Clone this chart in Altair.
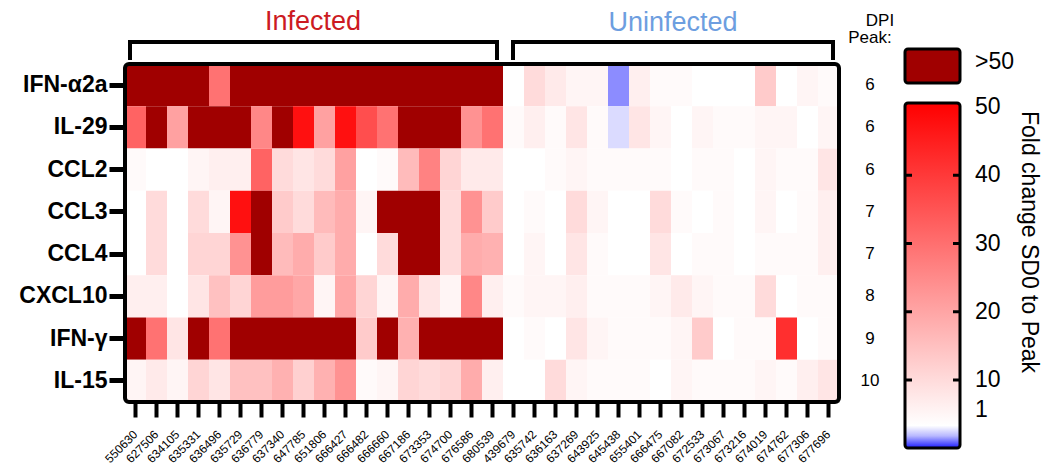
import altair as alt
import pandas as pd

infected = ["550630", "627506", "634105", "635331", "636496", "635729", "636779", "637340",
            "647785", "651806", "666427", "666482", "666660", "667186", "673353", "674700",
            "676586", "680539"]
uninfected = ["439679", "635742", "636163", "637269", "643925", "645438", "655401", "666475",
              "667082", "672533", "673067", "673216", "674019", "674762", "677306", "677696"]
samples = infected + uninfected
cytokines = ["IFN-α2a", "IL-29", "CCL2", "CCL3", "CCL4", "CXCL10", "IFN-γ", "IL-15"]
dpi_peak = [6, 6, 6, 7, 7, 8, 9, 10]
D = 60  # saturated cells (">50")

ifn_a2a = [D, D, D, D, 28, D, D, D, D, D, D, D, D, D, D, D, D, D,
           1, 8, 5, 3, 3, 0.55, 4, 2, 2, 1, 1, 1, 11, 1, 3, 2]
il29 = [31, D, 19, D, D, D, 24, D, 47, 19, 47, 35, 28, D, D, D, 22, 28,
        2, 4, 2, 6, 2, 0.86, 6, 3, 1, 3, 2, 2, 3, 3, 1, 3]
ccl2 = [2, 1, 1, 3, 4, 4, 31, 8, 6, 8, 19, 1, 2, 14, 25, 9, 5, 5,
        1, 1, 2, 3, 2, 2, 2, 2, 1, 2, 2, 1, 3, 2, 2, 6]
ccl3 = [1, 8, 1, 8, 3, 47, D, 11, 8, 14, 17, 3, D, D, D, 8, 22, 11,
        1, 2, 1, 8, 3, 1, 1, 8, 2, 1, 2, 1, 3, 1, 2, 4]
ccl4 = [1, 8, 1, 9, 9, 22, D, 14, 17, 11, 17, 1, 8, D, D, 8, 17, 16,
        1, 3, 1, 6, 2, 1, 1, 6, 1, 2, 2, 1, 2, 2, 2, 4]
cxcl10 = [4, 4, 1, 6, 13, 9, 20, 20, 18, 3, 18, 9, 3, 17, 6, 3, 24, 4,
          2, 3, 3, 4, 2, 2, 2, 3, 5, 3, 2, 2, 8, 1, 2, 2]
ifng = [D, 28, 6, D, 28, D, D, D, D, D, D, 11, D, 16, D, D, D, D,
        1, 2, 1, 6, 3, 2, 2, 2, 3, 11, 1, 2, 2, 41, 1, 2]
il15 = [3, 5, 3, 9, 6, 13, 13, 16, 10, 16, 22, 2, 3, 9, 8, 9, 17, 4,
        1, 1, 8, 3, 2, 2, 2, 1, 3, 2, 2, 2, 3, 2, 4, 6]
rows = [ifn_a2a, il29, ccl2, ccl3, ccl4, cxcl10, ifng, il15]

colorbar_ticks = [1, 10, 20, 30, 40, 50]
colorbar_inner_ticks = [10, 20, 30, 40]

FONT = "Liberation Sans"
DARK = "#a00000"
W, H = 714, 338

records = []
for cyt, vals in zip(cytokines, rows):
    for s, v in zip(samples, vals):
        records.append({"cytokine": cyt, "sample": s, "value": v})
df = pd.DataFrame(records)
dpi_df = pd.DataFrame({"cytokine": cytokines, "dpi": dpi_peak})
one = pd.DataFrame({"a": [0]})

color_scale = alt.Scale(domain=[0, 1, 50, 50.001, 100],
                        range=["#0000ff", "#ffffff", "#ff0000", DARK, DARK],
                        interpolate="rgb", clamp=True)
x_scale = alt.Scale(domain=samples, paddingInner=0, paddingOuter=0)
y_scale = alt.Scale(domain=cytokines, paddingInner=0, paddingOuter=0)

heat = alt.Chart(df).mark_rect().encode(
    x=alt.X("sample:N", sort=samples, scale=x_scale,
            axis=alt.Axis(title=None, labelAngle=315, labelFontSize=12, labelFont=FONT,
                          ticks=True, tickSize=15, tickWidth=4, tickColor="black",
                          domain=False, labelPadding=15, labelAlign="right",
                          labelBaseline="middle", labelColor="black")),
    y=alt.Y("cytokine:N", sort=cytokines, scale=y_scale,
            axis=alt.Axis(title=None, labelFontSize=23, labelFontWeight="bold", labelFont=FONT,
                          tickSize=16, tickWidth=5, tickColor="black", domain=False,
                          labelPadding=2, labelColor="black")),
    color=alt.Color("value:Q", scale=color_scale, legend=None),
)

dpi_text = alt.Chart(dpi_df).mark_text(fontSize=17, font=FONT, align="center", baseline="middle").encode(
    y=alt.Y("cytokine:N", sort=cytokines, scale=y_scale),
    x=alt.value(745),
    text="dpi:Q",
)


def txt(t, x, y, **kw):
    return alt.Chart(one).mark_text(text=t, font=FONT, baseline="middle", **kw).encode(
        x=alt.value(x), y=alt.value(y))


def rule(x, x2, y, y2=None):
    enc = dict(x=alt.value(x), x2=alt.value(x2), y=alt.value(y))
    if y2 is not None:
        enc["y2"] = alt.value(y2)
    return alt.Chart(one).mark_rule(color="black", strokeWidth=4, strokeCap="square").encode(**enc)


frame = alt.Chart(one).mark_rect(fill=None, fillOpacity=0, stroke="black", strokeWidth=4,
                                 cornerRadius=4).encode(
    x=alt.value(0), x2=alt.value(W), y=alt.value(0), y2=alt.value(H))

annotations = [
    frame,
    txt("Infected", 188, -42, fontSize=27, color="#cc1a22", align="center"),
    txt("Uninfected", 548, -41, fontSize=27, color="#6d9ee0", align="center"),
    rule(5, 372, -22), rule(5, 5, -22, -6), rule(372, 372, -22, -6),
    rule(388, 708, -22), rule(388, 388, -22, -6), rule(708, 708, -22, -6),
    txt("DPI", 755, -43, fontSize=17, align="center"),
    txt("Peak:", 745, -26, fontSize=17, align="center"),
]

main = alt.layer(heat, dpi_text, *annotations)

gradient = alt.LinearGradient(
    gradient="linear", x1=0, x2=0, y1=1, y2=0,
    stops=[alt.GradientStop(color="#1a1aff", offset=0),
           alt.GradientStop(color="#b8b8ff", offset=0.035),
           alt.GradientStop(color="#ffffff", offset=0.065),
           alt.GradientStop(color="#ff0000", offset=1)])

bar = alt.Chart(one).mark_rect(fill=gradient, stroke="black", strokeWidth=3, cornerRadius=3).encode(
    x=alt.value(780), x2=alt.value(835), y=alt.value(39), y2=alt.value(384))
over_box = alt.Chart(one).mark_rect(fill=DARK, stroke="black", strokeWidth=3, cornerRadius=3).encode(
    x=alt.value(780), x2=alt.value(835), y=alt.value(-15), y2=alt.value(19))

cb_scale = alt.Scale(domain=[1, 10, 50], range=[346, 316, 43])
inner_df = pd.DataFrame({"v": colorbar_inner_ticks})
tick_df = pd.DataFrame({"v": colorbar_ticks})
ticks_l = alt.Chart(inner_df).mark_rule(color="black", strokeWidth=3).encode(
    y=alt.Y("v:Q", scale=cb_scale, axis=None), x=alt.value(780), x2=alt.value(787))
ticks_r = alt.Chart(inner_df).mark_rule(color="black", strokeWidth=3).encode(
    y=alt.Y("v:Q", scale=cb_scale, axis=None), x=alt.value(828), x2=alt.value(835))
cb_labels = alt.Chart(tick_df).mark_text(fontSize=23, font=FONT, align="left", baseline="middle").encode(
    y=alt.Y("v:Q", scale=cb_scale, axis=None), x=alt.value(850), text="v:Q")

extras = [
    bar, over_box,
    txt(">50", 850, -2, fontSize=23, align="left"),
    txt("Fold change SD0 to Peak", 904, 178, fontSize=23, align="center", angle=90),
]
cb = alt.layer(*extras, ticks_l, ticks_r, cb_labels)

chart = alt.layer(main, cb).resolve_scale(y="independent").properties(
    width=W, height=H,
    autosize=alt.AutoSizeParams(type="none"),
    padding={"left": 125, "top": 64, "right": 209, "bottom": 64},
).configure_view(strokeWidth=0).configure(font=FONT)

chart.save("out.html", embed_options={"renderer": "svg", "actions": False})
